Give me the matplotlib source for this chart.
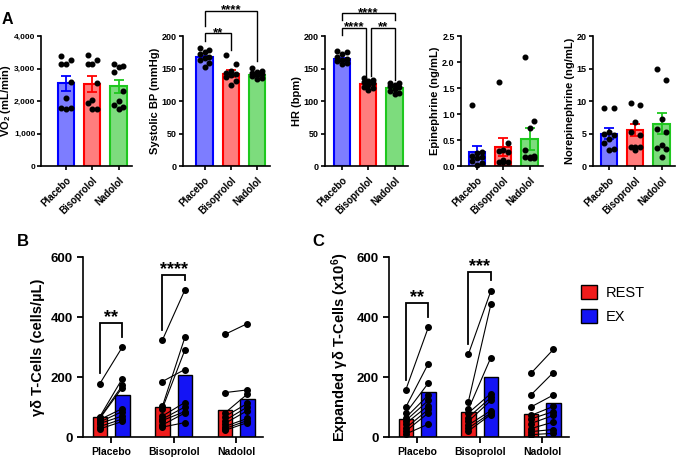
import matplotlib.pyplot as plt
import numpy as np
from matplotlib.patches import Patch
from matplotlib.ticker import FuncFormatter

plt.rcParams["font.family"] = ["Liberation Sans", "DejaVu Sans"]
plt.rcParams["font.weight"] = "bold"
plt.rcParams["axes.labelweight"] = "bold"
plt.rcParams["mathtext.fontset"] = "custom"
plt.rcParams["mathtext.rm"] = "Liberation Sans:bold"
plt.rcParams["mathtext.default"] = "rm"

drugs = ["Placebo", "Bisoprolol", "Nadolol"]

# ---- panel A: individual values, mean and SEM per drug ----
vo2_pts = [[3390, 3260, 3130, 3140, 2580, 2090, 1790, 1780, 1760],
           [3420, 3250, 3130, 3130, 2560, 2020, 1930, 1750, 1740],
           [3140, 3080, 3050, 2900, 2300, 2000, 1880, 1820, 1740]]
vo2_mean = [2540, 2520, 2460]
vo2_sem = [230, 240, 200]

sbp_pts = [[181, 178, 175, 172, 168, 166, 163, 158, 152],
           [171, 157, 146, 143, 142, 140, 137, 131, 125],
           [151, 146, 144, 143, 141, 140, 138, 136, 134]]
sbp_mean = [167, 142, 140]
sbp_sem = [3, 5, 2]

hr_pts = [[177, 176, 172, 168, 165, 163, 161, 159, 157],
          [136, 133, 131, 129, 127, 125, 122, 120, 117],
          [128, 127, 125, 123, 121, 118, 116, 113, 111]]
hr_mean = [164, 126, 120]
hr_sem = [2.5, 2, 2]

epi_pts = [[1.18, 0.27, 0.25, 0.20, 0.18, 0.15, 0.10, 0.05, 0.02],
           [1.62, 0.45, 0.30, 0.28, 0.27, 0.12, 0.08, 0.07, 0.07],
           [2.10, 0.87, 0.74, 0.30, 0.20, 0.18, 0.17, 0.15, 0.15]]
epi_mean = [0.26, 0.37, 0.52]
epi_sem = [0.12, 0.17, 0.22]

ne_pts = [[9.0, 9.0, 5.3, 5.0, 4.8, 4.2, 3.5, 2.6, 2.5],
          [9.7, 9.4, 6.7, 5.2, 4.8, 3.0, 2.9, 2.9, 2.5],
          [15.0, 13.2, 7.3, 5.7, 5.2, 3.2, 2.7, 2.6, 1.4]]
ne_mean = [5.0, 5.5, 6.5]
ne_sem = [0.8, 0.9, 1.6]

# significance: (label, group i, group j, bracket y, leg end i, leg end j)
sbp_sig = [("**", 0, 1, 205, 193, 178), ("****", 0, 2, 239, 215, 162)]
hr_sig = [("****", 0, 1, 213, 202, 139), ("**", 1, 2, 213, 139, 132),
          ("****", 0, 2, 235, 224, 224)]

# ---- panels B and C: paired REST / EX values ----
gd_rest = [[178, 68, 65, 62, 58, 50, 45, 35, 27],
           [323, 185, 102, 95, 70, 60, 55, 40, 33],
           [342, 148, 80, 68, 55, 45, 35, 28, 22]]
gd_ex = [[300, 195, 172, 165, 95, 85, 70, 60, 52],
         [490, 225, 332, 290, 115, 100, 85, 80, 48],
         [378, 157, 143, 112, 100, 88, 62, 55, 48]]
gd_rest_mean = [67, 100, 90]
gd_ex_mean = [141, 207, 127]
gd_sig = [("**", 0, 379, 212, 334), ("****", 1, 540, 357, 523)]

exp_rest = [[158, 100, 80, 65, 55, 45, 30, 20, 10],
            [276, 118, 92, 80, 65, 52, 40, 30, 20],
            [212, 140, 100, 72, 60, 45, 28, 18, 8]]
exp_ex = [[366, 245, 180, 140, 122, 105, 92, 80, 43],
          [487, 442, 265, 145, 132, 122, 88, 80, 75],
          [292, 215, 140, 102, 85, 72, 50, 25, 12]]
exp_rest_mean = [61, 84, 77]
exp_ex_mean = [150, 201, 112]
exp_sig = [("**", 0, 447, 189, 400), ("***", 1, 550, 309, 522)]

W, H = 680, 458
fill_cols = ["#7d7dff", "#ff7d7d", "#7ddc7d"]
edge_cols = ["#0000ff", "#ff0000", "#1ec81e"]
REST_COL = "#f01c1c"
EX_COL = "#1414f5"

fig = plt.figure(figsize=(W / 100, H / 100), dpi=100)


def style_axes(ax):
    for s in ["top", "right"]:
        ax.spines[s].set_visible(False)
    for s in ["left", "bottom"]:
        ax.spines[s].set_linewidth(1.2)
    ax.tick_params(width=1.2, length=3.5)


def bracket(ax, x1, x2, y, y1, y2, label, size, lw=1.0, dy=0):
    ax.plot([x1, x1, x2, x2], [y1, y, y, y2], color="black", lw=lw,
            clip_on=False, solid_joinstyle="miter")
    ax.annotate(label, ((x1 + x2) / 2, y), xytext=(0, dy),
                textcoords="offset points", ha="center", va="center",
                fontsize=size, fontweight="bold", annotation_clip=False)


# panel A layout: y-axis pixel x, first bar centre pixel x
a_axis_x = [41, 183, 325, 461, 593]
a_bar1_x = [66, 204.5, 342, 477, 609]
unit = 26.3
offsets = np.array([-0.18, 0.18, 0.0, -0.18, 0.18, 0.0, -0.18, 0.18, 0.0])

a_panels = [
    (vo2_pts, vo2_mean, vo2_sem, "VO$_2$ (mL/min)", (0, 4000), np.arange(0, 4001, 1000), []),
    (sbp_pts, sbp_mean, sbp_sem, "Systolic BP (mmHg)", (0, 200), np.arange(0, 201, 50), sbp_sig),
    (hr_pts, hr_mean, hr_sem, "HR (bpm)", (0, 200), np.arange(0, 201, 50), hr_sig),
    (epi_pts, epi_mean, epi_sem, "Epinephrine (ng/mL)", (0, 2.5), np.arange(0, 2.51, 0.5), []),
    (ne_pts, ne_mean, ne_sem, "Norepinephrine (ng/mL)", (0, 20), np.arange(0, 21, 5), []),
]

for k, (pts, mean, sem, ylabel, ylim, yticks, sig) in enumerate(a_panels):
    x0 = -(a_bar1_x[k] - a_axis_x[k]) / unit
    x1 = 2.5
    width_px = (x1 - x0) * unit
    ax = fig.add_axes([a_axis_x[k] / W, 1 - 166 / H, width_px / W, 130 / H])
    xs = np.arange(3)
    ax.bar(xs, mean, width=0.62, color=fill_cols, edgecolor=edge_cols, linewidth=1.5, zorder=2)
    for i in range(3):
        ax.errorbar(i, mean[i], yerr=sem[i], fmt="none", ecolor=edge_cols[i],
                    elinewidth=1.3, capsize=3.5, capthick=1.3, zorder=3)
        vals = np.sort(np.array(pts[i]))[::-1]
        ax.scatter(i + offsets, vals, s=11, color="black", zorder=4, clip_on=False)
    ax.set_xlim(x0, x1)
    ax.set_ylim(*ylim)
    ax.set_yticks(yticks)
    ax.set_xticks(xs)
    ax.set_xticklabels(drugs, rotation=45, ha="right", rotation_mode="anchor", fontsize=7)
    if k == 0:
        ax.yaxis.set_major_formatter(FuncFormatter(lambda v, p: f"{int(v):,}"))
    elif k == 3:
        ax.yaxis.set_major_formatter(FuncFormatter(lambda v, p: f"{v:.1f}"))
    ax.set_ylabel(ylabel, fontsize=8, labelpad=1.5)
    style_axes(ax)
    ax.tick_params(length=3)
    ax.tick_params(axis="y", labelsize=6.5, pad=1.5)
    if k == 0:
        ax.tick_params(axis="y", labelsize=6, pad=1)
        ax.yaxis.set_label_coords((13.5 - a_axis_x[k]) / width_px, 0.5)
    for lab, i, j, y, y1, y2 in sig:
        xi, xj = i, j
        if len(sig) == 3 and j - i == 1:
            xi = i + (0.1 if i == 1 else 0)
            xj = j - (0.1 if j == 1 else 0)
        bracket(ax, xi, xj, y, y1, y2, lab, 9.5)

# panels B and C
bc_panels = [
    (83, gd_rest, gd_ex, gd_rest_mean, gd_ex_mean, gd_sig, "γδ T-Cells (cells/µL)"),
    (389, exp_rest, exp_ex, exp_rest_mean, exp_ex_mean, exp_sig, "Expanded γδ T-Cells (x10$^6$)"),
]
for left, rest, ex, rmean, emean, sig, ylabel in bc_panels:
    ax = fig.add_axes([left / W, 1 - 437 / H, 180 / W, 180 / H])
    xs = np.arange(3)
    d = 0.18
    ax.bar(xs - d, rmean, width=0.23, color=REST_COL, edgecolor="black", linewidth=1.0, zorder=2)
    ax.bar(xs + d, emean, width=0.23, color=EX_COL, edgecolor="black", linewidth=1.0, zorder=2)
    for i in range(3):
        for r, e in zip(rest[i], ex[i]):
            ax.plot([i - d, i + d], [r, e], color="black", lw=0.8, zorder=3)
        ax.scatter(np.full(9, i - d), rest[i], s=16, color="black", zorder=4)
        ax.scatter(np.full(9, i + d), ex[i], s=16, color="black", zorder=4)
    for lab, i, y, y1, y2 in sig:
        bracket(ax, i - d, i + d, y, y1, y2, lab, 13, lw=1.3, dy=4)
    ax.set_xlim(-0.45, 2.43)
    ax.set_ylim(0, 600)
    ax.set_yticks([0, 200, 400, 600])
    ax.set_xticks(xs)
    ax.set_xticklabels(drugs, fontsize=7.5)
    ax.tick_params(axis="y", labelsize=9.5)
    ax.set_ylabel(ylabel, fontsize=10.5, labelpad=4)
    style_axes(ax)
    ax.tick_params(length=4, width=1.3)

fig.legend(handles=[Patch(facecolor=REST_COL, edgecolor="black", lw=1.0),
                    Patch(facecolor=EX_COL, edgecolor="black", lw=1.0)],
           labels=["REST", "EX"], loc="upper left",
           bbox_to_anchor=(568 / W, 1 - 272 / H), frameon=False,
           handlelength=1.1, handleheight=1.1, handletextpad=0.6,
           labelspacing=0.6, prop={"size": 10.5, "weight": "normal"})

fig.text(2 / W, 1 - 24 / H, "A", fontsize=11.5, fontweight="bold")
fig.text(17 / W, 1 - 246 / H, "B", fontsize=12, fontweight="bold")
fig.text(312 / W, 1 - 246 / H, "C", fontsize=12, fontweight="bold")

fig.savefig("out.png", dpi=100)
